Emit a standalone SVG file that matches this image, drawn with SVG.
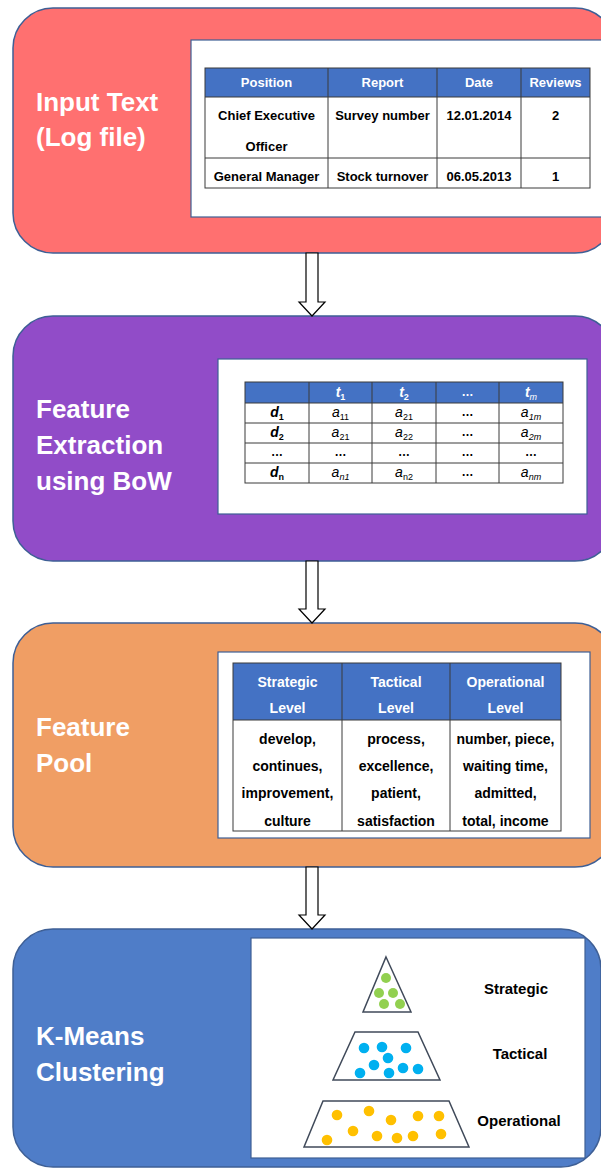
<svg xmlns="http://www.w3.org/2000/svg" width="601" height="1169" viewBox="0 0 601 1169">
<style>
.panel{stroke:#3E5F95;stroke-width:1.5}
.title{font-family:"Liberation Sans",Arial,sans-serif;font-weight:bold;font-size:26px;fill:#FFFFFF}
.box{fill:#FFFFFF;stroke:#3E5F95;stroke-width:1.2}
.hdr{fill:#4472C4}
.grid{stroke:#3A3A3A;stroke-width:1;fill:none}
.t{font-family:"Liberation Sans",Arial,sans-serif;font-weight:bold;font-size:13px;fill:#000000;text-anchor:middle}
.t3{font-family:"Liberation Sans",Arial,sans-serif;font-weight:bold;font-size:14px;fill:#000000;text-anchor:middle}
.th{font-family:"Liberation Sans",Arial,sans-serif;font-weight:bold;font-size:13px;fill:#FFFFFF;text-anchor:middle}
.th3{font-family:"Liberation Sans",Arial,sans-serif;font-weight:bold;font-size:14px;fill:#FFFFFF;text-anchor:middle}
.s{font-family:"Liberation Sans",Arial,sans-serif;font-size:12px;fill:#000000;text-anchor:middle}
.sh{font-family:"Liberation Sans",Arial,sans-serif;font-size:12px;fill:#FFFFFF;text-anchor:middle;font-weight:bold}
.m{font-style:italic;font-size:14px}
.sub{font-size:9px}
.lbl{font-family:"Liberation Sans",Arial,sans-serif;font-weight:bold;font-size:15px;fill:#000000;text-anchor:middle}
.arrow{fill:#FFFFFF;stroke:#000000;stroke-width:1.2;stroke-linejoin:miter}
.shape{fill:#FFFFFF;stroke:#404A5A;stroke-width:1.5}
.g{fill:#92D050}.b{fill:#00B0F0}.o{fill:#FFC000}
</style>

<g id="node-input">
<rect class="panel" x="13" y="8" width="602" height="245" rx="40" ry="40" fill="#FF7070"/>
<text class="title" x="36" y="111">Input Text</text>
<text class="title" x="36" y="146">(Log file)</text>
<rect class="box" x="191" y="40" width="420" height="177"/>
<rect class="hdr" x="205" y="68" width="385" height="29"/>
<rect class="grid" x="205" y="68" width="385" height="120"/>
<path class="grid" d="M205 97H590M205 158H590M328 68V188M437 68V188M521 68V188"/>
<text class="th" x="266.5" y="87">Position</text>
<text class="th" x="382.5" y="87">Report</text>
<text class="th" x="479" y="87">Date</text>
<text class="th" x="555.5" y="87">Reviews</text>
<text class="t" x="266.5" y="120">Chief Executive</text>
<text class="t" x="266.5" y="151">Officer</text>
<text class="t" x="382.5" y="120">Survey number</text>
<text class="t" x="479" y="120">12.01.2014</text>
<text class="t" x="555.5" y="120">2</text>
<text class="t" x="266.5" y="181">General Manager</text>
<text class="t" x="382.5" y="181">Stock turnover</text>
<text class="t" x="479" y="181">06.05.2013</text>
<text class="t" x="555.5" y="181">1</text>
</g>

<g id="node-bow">
<rect class="panel" x="13" y="316" width="602" height="245" rx="40" ry="40" fill="#914CC8"/>
<text class="title" x="36" y="418">Feature</text>
<text class="title" x="36" y="454">Extraction</text>
<text class="title" x="36" y="490">using BoW</text>
<rect class="box" x="218" y="359" width="369" height="155"/>
<rect class="hdr" x="245" y="382" width="318" height="21"/>
<rect class="grid" x="245" y="382" width="318" height="101" stroke="#707070"/>
<path class="grid" stroke="#707070" d="M245 403H563M245 423H563M245 443H563M245 463H563M309 382V483M372 382V483M436 382V483M499 382V483"/>
<text class="sh" x="340.5" y="397"><tspan class="m">t</tspan><tspan class="sub" dy="3">1</tspan></text>
<text class="sh" x="404" y="397"><tspan class="m">t</tspan><tspan class="sub" dy="3">2</tspan></text>
<text class="sh" x="467.5" y="396">…</text>
<text class="sh" x="531" y="397"><tspan class="m">t</tspan><tspan class="sub" dy="3" font-style="italic" font-weight="normal">m</tspan></text>
<text class="s" x="277" y="417" font-weight="bold"><tspan class="m">d</tspan><tspan class="sub" dy="3">1</tspan></text>
<text class="s" x="277" y="437" font-weight="bold"><tspan class="m">d</tspan><tspan class="sub" dy="3">2</tspan></text>
<text class="s" x="277" y="456" font-weight="bold">…</text>
<text class="s" x="277" y="477" font-weight="bold"><tspan class="m">d</tspan><tspan class="sub" dy="3">n</tspan></text>
<text class="s" x="340.5" y="417"><tspan class="m">a</tspan><tspan class="sub" dy="3">11</tspan></text>
<text class="s" x="404" y="417"><tspan class="m">a</tspan><tspan class="sub" dy="3">21</tspan></text>
<text class="s" x="467.5" y="416" font-weight="bold">…</text>
<text class="s" x="531" y="417"><tspan class="m">a</tspan><tspan class="sub" dy="3" font-style="italic">1m</tspan></text>
<text class="s" x="340.5" y="437"><tspan class="m">a</tspan><tspan class="sub" dy="3">21</tspan></text>
<text class="s" x="404" y="437"><tspan class="m">a</tspan><tspan class="sub" dy="3">22</tspan></text>
<text class="s" x="467.5" y="436" font-weight="bold">…</text>
<text class="s" x="531" y="437"><tspan class="m">a</tspan><tspan class="sub" dy="3" font-style="italic">2m</tspan></text>
<text class="s" x="340.5" y="456" font-weight="bold">…</text>
<text class="s" x="404" y="456" font-weight="bold">…</text>
<text class="s" x="467.5" y="456" font-weight="bold">…</text>
<text class="s" x="531" y="456" font-weight="bold">…</text>
<text class="s" x="340.5" y="477"><tspan class="m">a</tspan><tspan class="sub" dy="3" font-style="italic">n1</tspan></text>
<text class="s" x="404" y="477"><tspan class="m">a</tspan><tspan class="sub" dy="3">n2</tspan></text>
<text class="s" x="467.5" y="476" font-weight="bold">…</text>
<text class="s" x="531" y="477"><tspan class="m">a</tspan><tspan class="sub" dy="3" font-style="italic">nm</tspan></text>
</g>

<g id="node-pool">
<rect class="panel" x="13" y="623" width="602" height="244" rx="40" ry="40" fill="#F09E64"/>
<text class="title" x="36" y="736">Feature</text>
<text class="title" x="36" y="772">Pool</text>
<rect class="box" x="218" y="652" width="372" height="186"/>
<rect class="hdr" x="233" y="663" width="328" height="57"/>
<rect class="grid" x="233" y="663" width="328" height="168"/>
<path class="grid" d="M233 720H561M342 663V831M450 663V831"/>
<text class="th3" x="287.5" y="687">Strategic</text>
<text class="th3" x="287.5" y="713">Level</text>
<text class="th3" x="396" y="687">Tactical</text>
<text class="th3" x="396" y="713">Level</text>
<text class="th3" x="505.5" y="687">Operational</text>
<text class="th3" x="505.5" y="713">Level</text>
<text class="t3" x="287.5" y="744">develop,</text>
<text class="t3" x="287.5" y="771">continues,</text>
<text class="t3" x="287.5" y="798">improvement,</text>
<text class="t3" x="287.5" y="826">culture</text>
<text class="t3" x="396" y="744">process,</text>
<text class="t3" x="396" y="771">excellence,</text>
<text class="t3" x="396" y="798">patient,</text>
<text class="t3" x="396" y="826">satisfaction</text>
<text class="t3" x="505.5" y="744">number, piece,</text>
<text class="t3" x="505.5" y="771">waiting time,</text>
<text class="t3" x="505.5" y="798">admitted,</text>
<text class="t3" x="505.5" y="826">total, income</text>
</g>

<g id="node-kmeans">
<rect class="panel" x="13" y="929" width="588" height="238" rx="40" ry="40" fill="#4F7DC8"/>
<text class="title" x="36" y="1045">K-Means</text>
<text class="title" x="36" y="1081">Clustering</text>
<rect class="box" x="251" y="938" width="334" height="220"/>
<polygon class="shape" points="386,957 411,1012 363,1012"/>
<circle class="g" cx="386" cy="978" r="5"/>
<circle class="g" cx="379" cy="993" r="5"/>
<circle class="g" cx="393" cy="993" r="5"/>
<circle class="g" cx="384" cy="1004" r="5"/>
<circle class="g" cx="400" cy="1004" r="5"/>
<polygon class="shape" points="355,1032 418,1032 440,1080 333,1080"/>
<circle class="b" cx="364" cy="1048" r="5.3"/>
<circle class="b" cx="382" cy="1047" r="5.3"/>
<circle class="b" cx="406" cy="1048" r="5.3"/>
<circle class="b" cx="388" cy="1058" r="5.3"/>
<circle class="b" cx="374" cy="1065" r="5.3"/>
<circle class="b" cx="360" cy="1073" r="5.3"/>
<circle class="b" cx="389" cy="1073" r="5.3"/>
<circle class="b" cx="403" cy="1068" r="5.3"/>
<circle class="b" cx="418" cy="1069" r="5.3"/>
<polygon class="shape" points="323,1101 449,1101 469,1147 304,1147"/>
<circle class="o" cx="337" cy="1115" r="5.3"/>
<circle class="o" cx="369" cy="1111" r="5.3"/>
<circle class="o" cx="391" cy="1120" r="5.3"/>
<circle class="o" cx="418" cy="1116" r="5.3"/>
<circle class="o" cx="439" cy="1116" r="5.3"/>
<circle class="o" cx="353" cy="1131" r="5.3"/>
<circle class="o" cx="327" cy="1140" r="5.3"/>
<circle class="o" cx="377" cy="1136" r="5.3"/>
<circle class="o" cx="397" cy="1138" r="5.3"/>
<circle class="o" cx="413" cy="1136" r="5.3"/>
<circle class="o" cx="441" cy="1134" r="5.3"/>
<text class="lbl" x="516" y="994">Strategic</text>
<text class="lbl" x="520" y="1059">Tactical</text>
<text class="lbl" x="519" y="1126">Operational</text>
</g>

<g id="connectors">
<polygon class="arrow" points="306,253 318,253 318,302 325,302 312,316 299,302 306,302"/>
<polygon class="arrow" points="306,561 318,561 318,609 325,609 312,623 299,609 306,609"/>
<polygon class="arrow" points="306,867 318,867 318,915 325,915 312,929 299,915 306,915"/>
</g>
</svg>
